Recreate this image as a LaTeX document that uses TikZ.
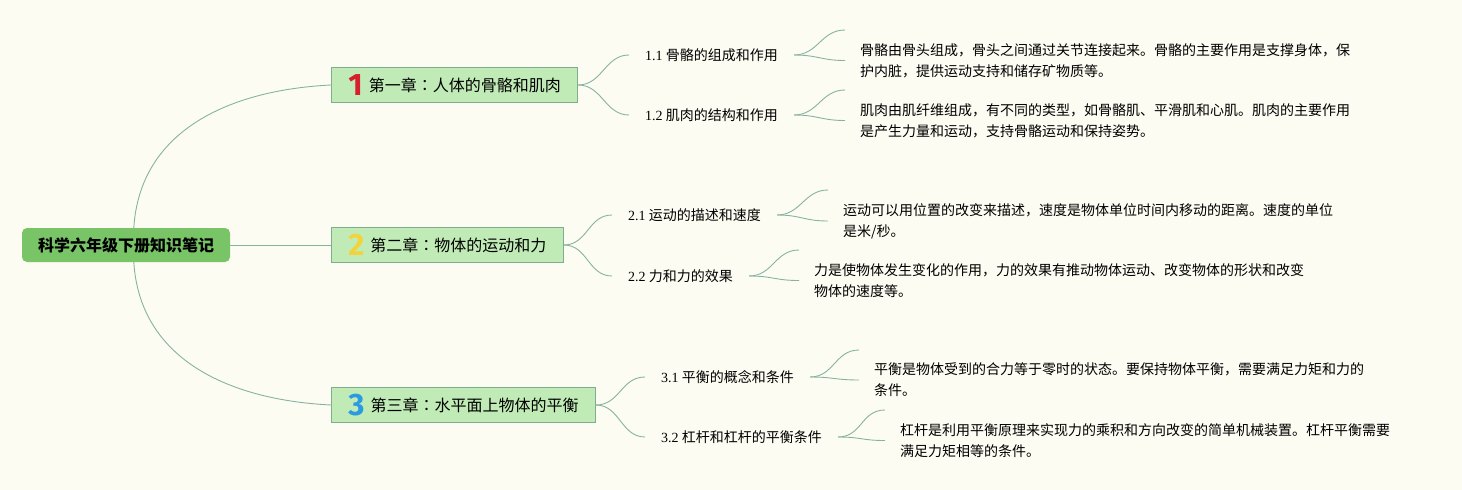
\documentclass[tikz,border=0pt]{standalone}
\usepackage{fontspec}
\setmainfont{Liberation Serif}
\newfontfamily\cjk{Noto Sans CJK SC}
\newfontfamily\cjktc{Noto Sans CJK TC}
\newfontfamily\numfont{Fira Sans}
\definecolor{bgc}{HTML}{FDFCF3}
\definecolor{rootfill}{HTML}{78C466}
\definecolor{chapfill}{HTML}{C0EBB6}
\definecolor{chapborder}{HTML}{7FAE8E}
\definecolor{linec}{HTML}{86B3A0}
\definecolor{numred}{HTML}{D6202B}
\definecolor{numyellow}{HTML}{F2D33C}
\definecolor{numblue}{HTML}{2B9AE0}
\newcommand\chnum[2]{\smash{\raisebox{-4pt}{\numfont\bfseries\fontsize{31pt}{31pt}\selectfont\color{#1}#2}}\hspace{6pt}}
\newcommand\ccolon{{\cjktc ：}}
\tikzset{
  conn/.style={draw=linec, line width=0.9pt},
  rootbox/.style={fill=rootfill, rounded corners=5pt, minimum width=208pt, minimum height=34pt, inner sep=0pt, font=\cjk\bfseries\fontsize{16pt}{19pt}\selectfont},
  chapbox/.style={draw=chapborder, fill=chapfill, line width=0.8pt, anchor=west, minimum height=35pt, inner xsep=17pt, inner ysep=0pt, font=\cjk\fontsize{16pt}{19pt}\selectfont},
  subbox/.style={anchor=west, inner xsep=16pt, inner ysep=2pt, font=\cjk\fontsize{14pt}{17pt}\selectfont},
  leafbox/.style={anchor=west, inner xsep=15pt, inner ysep=2pt, align=left, font=\cjk\fontsize{14pt}{21pt}\selectfont}
}
\begin{document}
\begin{tikzpicture}[x=1pt,y=-1pt]
\useasboundingbox (0,0) rectangle (1462,490);
\fill[bgc] (0,0) rectangle (1462,490);

\node[rootbox] (root) at (126,245) {科学六年级下册知识笔记};

\node[chapbox] (c1) at (331,85) {\chnum{numred}{1}第一章\ccolon 人体的骨骼和肌肉};
\node[chapbox] (c2) at (331,245) {\chnum{numyellow}{2}第二章\ccolon 物体的运动和力};
\node[chapbox] (c3) at (331,405) {\chnum{numblue}{3}第三章\ccolon 水平面上物体的平衡};

\node[subbox] (s11) at (629,55) {{\rmfamily 1.1} 骨骼的组成和作用};
\node[subbox] (s12) at (629,115) {{\rmfamily 1.2} 肌肉的结构和作用};
\node[subbox] (s21) at (612,215) {{\rmfamily 2.1} 运动的描述和速度};
\node[subbox] (s22) at (612,276) {{\rmfamily 2.2} 力和力的效果};
\node[subbox] (s31) at (645,377) {{\rmfamily 3.1} 平衡的概念和条件};
\node[subbox] (s32) at (645,437) {{\rmfamily 3.2} 杠杆和杠杆的平衡条件};

\node[leafbox] (l11) at (845,60.5) {骨骼由骨头组成，骨头之间通过关节连接起来。骨骼的主要作用是支撑身体，保\\护内脏，提供运动支持和储存矿物质等。};
\node[leafbox] (l12) at (845,120.5) {肌肉由肌纤维组成，有不同的类型，如骨骼肌、平滑肌和心肌。肌肉的主要作用\\是产生力量和运动，支持骨骼运动和保持姿势。};
\node[leafbox] (l21) at (828,221) {运动可以用位置的改变来描述，速度是物体单位时间内移动的距离。速度的单位\\是米/秒。};
\node[leafbox] (l22) at (799,280.5) {力是使物体发生变化的作用，力的效果有推动物体运动、改变物体的形状和改变\\物体的速度等。};
\node[leafbox] (l31) at (859,380) {平衡是物体受到的合力等于零时的状态。要保持物体平衡，需要满足力矩和力的\\条件。};
\node[leafbox] (l32) at (885,440.5) {杠杆是利用平衡原理来实现力的乘积和方向改变的简单机械装置。杠杆平衡需要\\满足力矩相等的条件。};

% root to chapters
\draw[conn] (root.east) -- (c2.west);
\draw[conn] ([xshift=112pt]root.north west) .. controls (140,130) and (230,90) .. (c1.west);
\draw[conn] ([xshift=112pt]root.south west) .. controls (140,360) and (230,400) .. (c3.west);

% chapters to subtopics
\foreach \c/\s in {c1/s11,c1/s12,c2/s21,c2/s22,c3/s31,c3/s32}{
  \draw[conn] (\c.east) .. controls +(24,0) and +(-24,0) .. (\s.west);
}

% subtopics to leaves
\foreach \s/\l/\u in {s11/l11/30.5,s12/l12/30.5,s21/l21/31,s22/l22/30.5,s31/l31/30,s32/l32/30.5}{
  \draw[conn] (\s.east) .. controls +(24,0) and +(-24,0) .. ([yshift=\u pt]\l.west);
  \draw[conn] (\s.east) .. controls +(24,0) and +(-24,0) .. (\l.west);
}
\end{tikzpicture}
\end{document}
